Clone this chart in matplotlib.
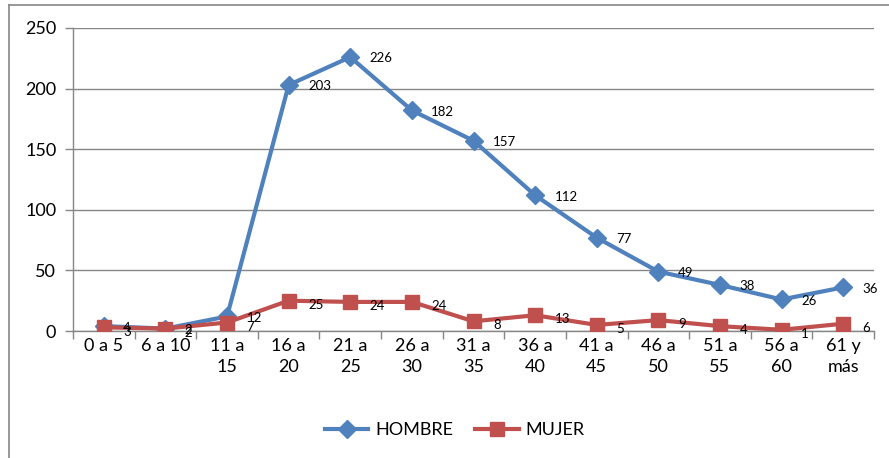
import matplotlib
matplotlib.use("Agg")
import matplotlib.pyplot as plt
from matplotlib.lines import Line2D

categories = ["0 a 5", "6 a 10", "11 a\n15", "16 a\n20", "21 a\n25", "26 a\n30",
              "31 a\n35", "36 a\n40", "41 a\n45", "46 a\n50", "51 a\n55", "56 a\n60",
              "61 y\nmás"]
hombre = [4, 2, 12, 203, 226, 182, 157, 112, 77, 49, 38, 26, 36]
mujer = [3, 2, 7, 25, 24, 24, 8, 13, 5, 9, 4, 1, 6]
yticks = [0, 50, 100, 150, 200, 250]

plt.rcParams['font.family'] = ['Lato', 'DejaVu Sans']
grey = "#868686"
blue = "#4F81BD"
red = "#C0504D"

fig = plt.figure(figsize=(8.89, 4.58), dpi=100)
ax = fig.add_axes([73 / 889, 1 - 331 / 458, 801 / 889, 303 / 458])

x = list(range(len(categories)))
ax.plot(x, hombre, color=blue, lw=3, marker="D", ms=9, zorder=3, label="HOMBRE")
ax.plot(x, mujer, color=red, lw=3, marker="s", ms=10.5, zorder=4, label="MUJER")

for xi, v in zip(x, hombre):
    ax.annotate(str(v), (xi, v), xytext=(14, -1), textcoords="offset points",
                va="center", ha="left", fontsize=9.5, zorder=5)
for xi, v in zip(x, mujer):
    ax.annotate(str(v), (xi, v), xytext=(14, -3), textcoords="offset points",
                va="center", ha="left", fontsize=9.5, zorder=5)

ax.set_xlim(-0.5, len(categories) - 0.5)
ax.set_ylim(0, 250)
ax.set_yticks(yticks)
ax.set_yticklabels([str(t) for t in yticks], fontsize=13)
ax.yaxis.grid(True, color=grey, lw=1)
ax.set_axisbelow(True)

ax.set_xticks([i + 0.5 for i in range(-1, len(categories))])
ax.set_xticklabels([])
ax.set_xticks(x, minor=True)
ax.set_xticklabels(categories, minor=True, fontsize=13, va="top", linespacing=1.4)
ax.tick_params(axis="x", which="minor", length=0, pad=5)
ax.tick_params(axis="x", which="major", length=6, color=grey, width=1)
ax.tick_params(axis="y", length=6, color=grey, width=1, pad=6)

for s in ["top", "right"]:
    ax.spines[s].set_visible(False)
for s in ["left", "bottom"]:
    ax.spines[s].set_color(grey)
    ax.spines[s].set_linewidth(1)

handles = [Line2D([], [], color=blue, lw=3, marker="D", ms=9),
           Line2D([], [], color=red, lw=3, marker="s", ms=10.5)]
fig.legend(handles, ["HOMBRE", "MUJER"], loc="center", bbox_to_anchor=(455 / 889, 1 - 430 / 458),
           ncol=2, frameon=False, fontsize=13, handlelength=2.4, columnspacing=1.2,
           handletextpad=0.4)

# outer chart frame (left and top edges visible)
fig.add_artist(Line2D([9 / 889, 9 / 889], [0, 1 - 5 / 458], color=grey, lw=1.2,
                      transform=fig.transFigure))
fig.add_artist(Line2D([9 / 889, 1], [1 - 5 / 458, 1 - 5 / 458], color=grey, lw=1.2,
                      transform=fig.transFigure))

fig.savefig("out.png", dpi=100)
